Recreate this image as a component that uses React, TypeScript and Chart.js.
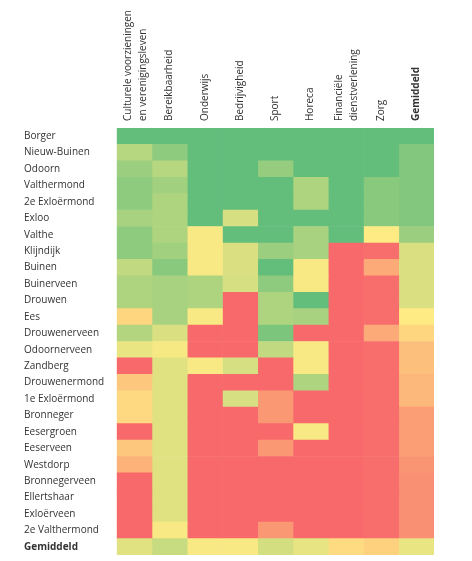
import { useEffect, useRef } from 'react';
import { Chart, registerables } from 'chart.js';

Chart.register(...registerables);

const places = [
  'Borger', 'Nieuw-Buinen', 'Odoorn', 'Valthermond', '2e Exloërmond', 'Exloo', 'Valthe',
  'Klijndijk', 'Buinen', 'Buinerveen', 'Drouwen', 'Ees', 'Drouwenerveen', 'Odoornerveen',
  'Zandberg', 'Drouwenermond', '1e Exloërmond', 'Bronneger', 'Eesergroen', 'Eeserveen',
  'Westdorp', 'Bronnegerveen', 'Ellertshaar', 'Exloërveen', '2e Valthermond', 'Gemiddeld',
];

const categories: (string | string[])[] = [
  ['Culturele voorzieningen', 'en verenigingsleven'],
  'Bereikbaarheid',
  'Onderwijs',
  'Bedrijvigheid',
  'Sport',
  'Horeca',
  ['Financiële', 'dienstverlening'],
  'Zorg',
  'Gemiddeld',
];

// Scores 0 (red) – 50 (yellow) – 100 (green), one per place (row order above)
const culturele = [100, 73, 82, 86, 86, 78, 86, 86, 70, 76, 76, 42, 74, 57, 0, 36, 43, 43, 0, 36, 28, 0, 0, 0, 0, 60];
const bereikbaarheid = [100, 86, 73, 80, 76, 76, 76, 80, 88, 78, 78, 78, 62, 53, 60, 60, 60, 60, 60, 60, 60, 60, 60, 60, 52, 68];
const onderwijs = [100, 100, 100, 100, 100, 100, 52, 52, 52, 76, 76, 52, 0, 0, 52, 0, 0, 0, 0, 0, 0, 0, 0, 0, 0, 52];
const bedrijvigheid = [100, 100, 100, 100, 100, 63, 100, 62, 62, 63, 0, 0, 0, 0, 63, 0, 63, 0, 0, 0, 0, 0, 0, 0, 0, 52];
const sport = [100, 100, 84, 100, 100, 100, 100, 82, 100, 86, 76, 76, 92, 70, 0, 0, 18, 18, 0, 18, 0, 0, 0, 0, 18, 64];
const horeca = [100, 100, 100, 76, 76, 100, 78, 78, 52, 52, 100, 78, 0, 52, 52, 76, 0, 0, 52, 0, 0, 0, 0, 0, 0, 58];
const financieel = [100, 100, 100, 100, 100, 100, 100, 0, 0, 0, 0, 0, 0, 0, 0, 0, 0, 0, 0, 0, 0, 0, 0, 0, 0, 44];
const zorg = [100, 100, 100, 88, 88, 88, 50, 2, 25, 2, 2, 2, 25, 2, 2, 2, 2, 2, 2, 2, 2, 2, 2, 2, 2, 40];
const gemiddeld = [100, 90, 90, 90, 90, 90, 82, 62, 62, 62, 62, 50, 42, 33, 33, 30, 30, 20, 20, 20, 17, 15, 15, 15, 15, 57];

const seriesValues = [culturele, bereikbaarheid, onderwijs, bedrijvigheid, sport, horeca, financieel, zorg, gemiddeld];

const RED = [248, 105, 107];
const YELLOW = [255, 235, 132];
const GREEN = [99, 190, 123];

function scoreColor(v: number): string {
  const a = v <= 50 ? RED : YELLOW;
  const b = v <= 50 ? YELLOW : GREEN;
  const t = v <= 50 ? v / 50 : (v - 50) / 50;
  const c = a.map((x, i) => Math.round(x + (b[i] - x) * t));
  return `rgb(${c[0]},${c[1]},${c[2]})`;
}

const FONT = "'Open Sans', 'Noto Sans', sans-serif";
const TEXT = '#333333';
const LINE_H = 15;
const COL_W = (434 - 116.7) / 9;

function labelShift(label: string | string[]): number {
  const n = Array.isArray(label) ? label.length : 1;
  return n === 1 ? LINE_H : 23.5;
}

export default function App() {
  const ref = useRef<HTMLCanvasElement | null>(null);

  useEffect(() => {
    if (!ref.current) return;
    const chart = new Chart(ref.current, {
      type: 'bar',
      data: {
        labels: places,
        datasets: seriesValues.map((vals, i) => ({
          label: Array.isArray(categories[i]) ? (categories[i] as string[]).join(' ') : (categories[i] as string),
          data: places.map(() => 1),
          backgroundColor: vals.map(scoreColor),
          borderWidth: 0,
          barPercentage: 1,
          categoryPercentage: 1,
          stack: 'all',
        })),
      },
      options: {
        indexAxis: 'y',
        animation: false,
        responsive: true,
        maintainAspectRatio: false,
        layout: { padding: { left: 24, right: 38, top: 0, bottom: 5 } },
        plugins: { legend: { display: false }, tooltip: { enabled: false } },
        scales: {
          x: {
            type: 'linear',
            stacked: true,
            position: 'top',
            min: 0,
            max: categories.length,
            grid: { display: false, drawTicks: false },
            border: { display: false },
            afterBuildTicks: (s: any) => {
              s.ticks = categories.map((c, i) => ({ value: i + 0.5 + labelShift(c) / COL_W }));
            },
            afterFit: (s: any) => {
              s.height = 128;
            },
            ticks: {
              autoSkip: false,
              minRotation: 90,
              maxRotation: 90,
              padding: 7,
              color: TEXT,
              font: (ctx: any) => ({
                family: FONT,
                size: 10,
                lineHeight: LINE_H / 10,
                weight: ctx.index === categories.length - 1 ? 'bold' : 'normal',
              }),
              callback: (_v: any, i: number) => categories[i],
            },
          },
          xg: {
            type: 'linear',
            position: 'top',
            min: 0,
            max: categories.length,
            z: 1,
            ticks: { display: false },
            border: { display: false },
            afterBuildTicks: (s: any) => {
              s.ticks = categories.concat(['']).map((_, i) => ({ value: i }));
            },
            afterFit: (s: any) => {
              s.height = 0;
            },
            grid: {
              drawTicks: false,
              lineWidth: 1,
              color: (ctx: any) =>
                [2, 4, 5, 7].includes(ctx.tick ? ctx.tick.value : -1)
                  ? 'rgba(255,255,255,0.3)'
                  : 'rgba(255,255,255,0)',
            },
          },
          y: {
            type: 'category',
            stacked: true,
            z: 1,
            grid: { drawTicks: false, color: 'rgba(255,255,255,0.1)', lineWidth: 1 },
            border: { display: false },
            afterFit: (s: any) => {
              s.width = 92.7;
            },
            ticks: {
              autoSkip: false,
              crossAlign: 'far',
              padding: 0,
              color: TEXT,
              font: (ctx: any) => ({
                family: FONT,
                size: 10,
                weight: ctx.index === places.length - 1 ? 'bold' : 'normal',
              }),
            },
          },
        },
      } as any,
    });
    return () => chart.destroy();
  }, []);

  return (
    <div style={{ position: 'absolute', left: 0, top: 0, width: 472, height: 561 }}>
      <canvas ref={ref} />
    </div>
  );
}
